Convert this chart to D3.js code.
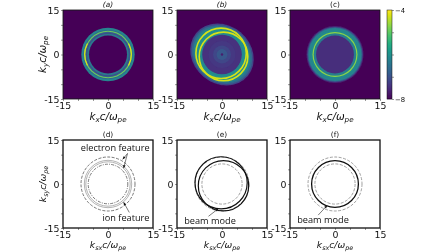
<!DOCTYPE html>
<html>
<head>
<meta charset="utf-8">
<script src="https://cdn.jsdelivr.net/npm/d3@7"></script>
<style>
  html, body { margin: 0; padding: 0; background: #fff; }
  text { font-family: "DejaVu Sans", sans-serif; fill: #111; }
</style>
</head>
<body>
<div id="chart"></div>
<script>
// axis ticks
var tickValues = [-15, -10, -5, 0, 5, 10, 15];
var tickLabels = ["-15", "", "", "0", "", "", "15"];
var titles = ["(a)", "(b)", "(c)", "(d)", "(e)", "(f)"];

// heatmap bands, outermost first (radius, log10 value)
var ringsA_r = [8.9, 8.2, 7.95, 7.55, 7.2, 6.95, 6.35];
var ringsA_v = [-6.2, -6.7, -4.9, -6.8, -7.1, -6.4, -7.95];
var ringsC_r = [9.5, 9.2, 8.85, 8.1, 7.5, 7.1, 6.3];
var ringsC_v = [-7.6, -6.9, -6.2, -6.1, -4.7, -6.3, -7.5];

// panel b: halo ellipse, then the two offset rings and the hollow middle
var haloB_r = [11.2, 10.7, 10.1, 9.5];
var haloB_v = [-7.2, -6.7, -6.3, -6.0];
var beamB_cx = [-0.3, 0.5];
var beamB_cy = [0.4, -0.65];
var beamB_r = [8.4, 8.1];
var innerB_r = [7.3, 6.6, 4.5, 3.0, 1.8, 0.4];
var innerB_v = [-6.1, -7.45, -7.35, -7.15, -6.9, -7.7];

// yellow stretches of the bright ring in panel a (degrees, clockwise from top)
var arcsA_start = [62, 242];
var arcsA_end = [118, 298];

// line diagrams: circle radii and centre offsets
var linesD_r = [9.0, 7.9, 7.4, 6.6];
var linesD_dash = ["3,1.5", "", "", "3,1.2,1,1.2"];
var linesD_col = ["#555", "#a0a0a0", "#a0a0a0", "#555"];
var linesE_r = [9.0, 6.7];
var beamE_cx = [-0.3, 0.5];
var beamE_cy = [0.4, -0.6];
var beamE_r = [8.7, 8.4];
var linesF_r = [9.0, 6.7];
var beamF_r = [7.8];

// annotations, in axis units
var noteText = ["electron feature", "ion feature", "beam mode", "beam mode"];
var notePanel = [3, 3, 4, 5];
var noteX = [2.4, 6.0, -4.0, -4.0];
var noteY = [12.3, -11.4, -12.5, -12.2];
var arrowPanel = [3, 3, 3, 4, 5];
var arrowX0 = [6.5, 6.5, 7.1, -4.5, -5.6];
var arrowY0 = [10.4, 10.4, -9.7, -11.0, -10.6];
var arrowX1 = [4.9, 5.2, 5.2, -1.2, -2.6];
var arrowY1 = [8.4, 5.4, -6.2, -8.4, -7.3];

var colorTicks = [-4, -5, -6, -7, -8];

var panelLeft = [63, 177, 290];
var panelTop = [10, 140];

var svg = d3.select("#chart").append("svg")
            .attr("width", 448)
            .attr("height", 252)
            .style("display", "block");

var defs = svg.append("defs");
defs.append("filter").attr("id", "soft")
    .append("feGaussianBlur").attr("stdDeviation", 0.35);
defs.append("filter").attr("id", "page")
    .attr("x", 0).attr("y", 0).attr("width", 1).attr("height", 1)
    .append("feGaussianBlur").attr("stdDeviation", 0.28);

var root = svg.append("g").attr("filter", "url(#page)");
root.append("rect").attr("width", 448).attr("height", 252).attr("fill", "#fff");

var color = d3.scaleSequential(d3.interpolateViridis).domain([-8, -4]);

var panels = [];
titles.forEach(function(title, i) {
  var row = i < 3 ? 0 : 1;
  var h = row == 0 ? 89 : 88;
  var g = root.append("g")
              .attr("transform", "translate(" + panelLeft[i % 3] + "," + panelTop[row] + ")");
  var x = d3.scaleLinear().domain([-15, 15]).range([0, 90]);
  var y = d3.scaleLinear().domain([-15, 15]).range([h, 0]);
  panels.push({g: g, x: x, y: y, h: h, row: row, i: i});
});

function ringLayer(p) {
  p.g.append("rect").attr("width", 90).attr("height", p.h).attr("fill", color(-7.97));
  return p.g.append("g").attr("filter", "url(#soft)");
}

function bands(layer, p, radii, values) {
  layer.selectAll(null)
       .data(radii)
       .enter().append("circle")
       .attr("cx", p.x(0))
       .attr("cy", p.y(0))
       .attr("r", function(d) { return p.x(d) - p.x(0); })
       .attr("fill", function(d, i) { return color(values[i]); });
}

// (a)
var layerA = ringLayer(panels[0]);
bands(layerA, panels[0], ringsA_r, ringsA_v);
var arcA = d3.arc()
             .innerRadius(panels[0].x(7.55) - panels[0].x(0))
             .outerRadius(panels[0].x(7.95) - panels[0].x(0));
layerA.selectAll(null)
      .data(arcsA_start)
      .enter().append("path")
      .attr("transform", "translate(" + panels[0].x(0) + "," + panels[0].y(0) + ")")
      .attr("d", function(d, i) {
        return arcA({startAngle: d * Math.PI / 180, endAngle: arcsA_end[i] * Math.PI / 180});
      })
      .attr("fill", color(-4.2));

// (b)
var layerB = ringLayer(panels[1]);
var pB = panels[1];
layerB.selectAll(null)
      .data(haloB_r)
      .enter().append("ellipse")
      .attr("transform", "translate(" + pB.x(0) + "," + pB.y(0) + ") rotate(40)")
      .attr("rx", function(d) { return pB.x(d) - pB.x(0); })
      .attr("ry", function(d) { return pB.x(d * 0.86) - pB.x(0); })
      .attr("fill", function(d, i) { return color(haloB_v[i]); });
bands(layerB, pB, innerB_r, innerB_v);
layerB.selectAll(null)
      .data(beamB_r)
      .enter().append("circle")
      .attr("cx", function(d, i) { return pB.x(beamB_cx[i]); })
      .attr("cy", function(d, i) { return pB.y(beamB_cy[i]); })
      .attr("r", function(d) { return pB.x(d) - pB.x(0); })
      .attr("fill", "none")
      .attr("stroke", color(-4.25))
      .attr("stroke-width", 1.6);

// (c)
var layerC = ringLayer(panels[2]);
bands(layerC, panels[2], ringsC_r, ringsC_v);

// (d)
panels[3].g.selectAll(null)
    .data(linesD_r)
    .enter().append("circle")
    .attr("cx", panels[3].x(0))
    .attr("cy", panels[3].y(0))
    .attr("r", function(d) { return panels[3].x(d) - panels[3].x(0); })
    .attr("fill", "none")
    .attr("stroke", function(d, i) { return linesD_col[i]; })
    .attr("stroke-width", 0.8)
    .attr("stroke-dasharray", function(d, i) { return linesD_dash[i]; });

// (e) and (f) gray dashed circles
[[4, linesE_r], [5, linesF_r]].forEach(function(item) {
  var p = panels[item[0]];
  p.g.selectAll(null)
     .data(item[1])
     .enter().append("circle")
     .attr("cx", p.x(0))
     .attr("cy", p.y(0))
     .attr("r", function(d) { return p.x(d) - p.x(0); })
     .attr("fill", "none")
     .attr("stroke", "#888")
     .attr("stroke-width", 0.8)
     .attr("stroke-dasharray", "3,1.5");
});

// beam modes
panels[4].g.selectAll(null)
    .data(beamE_r)
    .enter().append("circle")
    .attr("cx", function(d, i) { return panels[4].x(beamE_cx[i]); })
    .attr("cy", function(d, i) { return panels[4].y(beamE_cy[i]); })
    .attr("r", function(d) { return panels[4].x(d) - panels[4].x(0); })
    .attr("fill", "none")
    .attr("stroke", "#111")
    .attr("stroke-width", 1.2);
panels[5].g.selectAll(null)
    .data(beamF_r)
    .enter().append("circle")
    .attr("cx", panels[5].x(0))
    .attr("cy", panels[5].y(0))
    .attr("r", function(d) { return panels[5].x(d) - panels[5].x(0); })
    .attr("fill", "none")
    .attr("stroke", "#111")
    .attr("stroke-width", 1.3);

// annotations
arrowPanel.forEach(function(pi, i) {
  var p = panels[pi];
  var x1 = p.x(arrowX1[i]), y1 = p.y(arrowY1[i]);
  var x0 = p.x(arrowX0[i]), y0 = p.y(arrowY0[i]);
  p.g.append("line")
     .attr("x1", x0).attr("y1", y0)
     .attr("x2", x1).attr("y2", y1)
     .attr("stroke", "#222")
     .attr("stroke-width", 0.6);
  var a = Math.atan2(y1 - y0, x1 - x0) * 180 / Math.PI;
  p.g.append("path")
     .attr("transform", "translate(" + x1 + "," + y1 + ") rotate(" + a + ")")
     .attr("d", "M0,0L-3,-1.3L-3,1.3Z")
     .attr("fill", "#111");
});
noteText.forEach(function(t, i) {
  var p = panels[notePanel[i]];
  p.g.append("text")
     .attr("x", p.x(noteX[i]))
     .attr("y", p.y(noteY[i]))
     .attr("dy", "0.35em")
     .attr("text-anchor", "middle")
     .style("font-family", "'Open Sans', sans-serif")
     .style("font-size", "9.2px")
     .text(t);
});

// axes, frames, titles
function axisTitle(g, x, y, rotate, sub, subSmall) {
  var t = g.append("text")
           .attr("text-anchor", "middle")
           .attr("transform", "translate(" + x + "," + y + ")" + (rotate ? " rotate(-90)" : ""))
           .style("font-size", subSmall ? "9.2px" : "10.4px")
           .style("font-style", "italic");
  t.append("tspan").text("k");
  t.append("tspan").attr("dy", 2).style("font-size", subSmall ? "6.4px" : "7.2px").text(sub);
  t.append("tspan").attr("dy", -2).text("c/ω");
  t.append("tspan").attr("dy", 2).style("font-size", subSmall ? "6.4px" : "7.2px").text("pe");
}

panels.forEach(function(p) {
  var frame = p.row == 0 ? 0.8 : 1.3;
  var fmt = function(d, j) { return tickLabels[j]; };
  var ax = p.g.append("g")
              .attr("transform", "translate(0," + p.h + ")")
              .call(d3.axisBottom(p.x).tickValues(tickValues).tickFormat(fmt).tickSize(2).tickPadding(1.5));
  var ay = p.g.append("g")
              .call(d3.axisLeft(p.y).tickValues(tickValues).tickFormat(fmt).tickSize(2).tickPadding(1.5));
  [ax, ay].forEach(function(a) {
    a.select(".domain").remove();
    a.selectAll("line").attr("stroke", "#333").attr("stroke-width", 0.5);
    a.selectAll("text")
     .style("font-size", "9.4px")
     .style("font-family", "'DejaVu Sans', sans-serif")
     .attr("fill", "#111");
  });
  p.g.append("rect")
     .attr("width", 90).attr("height", p.h)
     .attr("fill", "none")
     .attr("stroke", "#111")
     .attr("stroke-width", frame);
  p.g.append("text")
     .attr("x", 45)
     .attr("y", -3)
     .attr("text-anchor", "middle")
     .style("font-size", "7.4px")
     .style("font-style", p.i < 2 ? "italic" : "normal")
     .text(titles[p.i]);
  axisTitle(p.g, 45, p.h + (p.row == 0 ? 21 : 20), false, p.row == 0 ? "x" : "sx", p.row == 1);
  if (p.i % 3 == 0) {
    axisTitle(p.g, -17, p.h / 2, true, p.row == 0 ? "y" : "sy", p.row == 1);
  }
});

// colorbar
var barY = d3.scaleLinear().domain([-8, -4]).range([99, 10]);
var bar = root.append("g");
bar.selectAll(null)
   .data(d3.range(0, 89))
   .enter().append("rect")
   .attr("x", 387)
   .attr("y", function(d) { return 10 + d; })
   .attr("width", 5)
   .attr("height", 1.2)
   .attr("fill", function(d) { return color(barY.invert(10 + d + 0.5)); });
bar.append("rect")
   .attr("x", 387).attr("y", 10)
   .attr("width", 5).attr("height", 89)
   .attr("fill", "none")
   .attr("stroke", "#111")
   .attr("stroke-width", 0.5);
var barAxis = root.append("g")
   .attr("transform", "translate(392,0)")
   .call(d3.axisRight(barY).tickValues(colorTicks)
           .tickFormat(function(d) { return d == -4 || d == -8 ? "\u2212" + Math.abs(d) : ""; })
           .tickSize(2).tickPadding(1));
barAxis.select(".domain").remove();
barAxis.selectAll("line").attr("stroke", "#333").attr("stroke-width", 0.5);
barAxis.selectAll("text").style("font-size", "6.8px").attr("fill", "#111");
</script>
</body>
</html>
